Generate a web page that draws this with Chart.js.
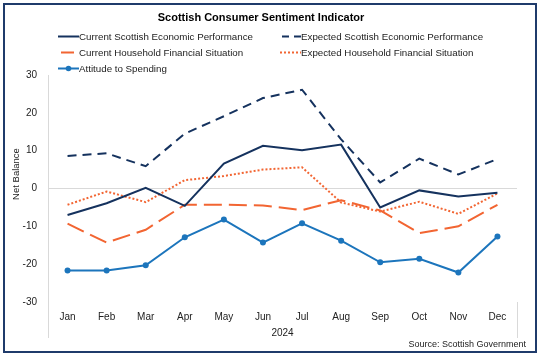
<!DOCTYPE html>
<html>
<head>
<meta charset="utf-8">
<script src="https://cdn.jsdelivr.net/npm/chart.js@4/dist/chart.umd.min.js"></script>
<style>
html,body{margin:0;padding:0;background:#fff;}
canvas{display:block;}
</style>
</head>
<body>
<canvas id="c" width="541" height="357"></canvas>
<script>
const months = ["Jan","Feb","Mar","Apr","May","Jun","Jul","Aug","Sep","Oct","Nov","Dec"];
const yearLabel = "2024";
const currentScottish = [-7.0,-3.9,0.2,-4.6,6.6,11.3,10.1,11.6,-5.0,-0.5,-2.1,-1.1];
const expectedScottish = [8.6,9.3,5.9,14.5,19.1,23.9,26.1,13.0,1.6,7.9,3.7,7.8];
const currentHousehold = [-9.3,-14.3,-10.9,-4.3,-4.3,-4.5,-5.7,-3.1,-5.8,-11.8,-10.0,-4.3];
const expectedHousehold = [-4.3,-0.8,-3.6,2.2,3.3,5.0,5.6,-3.7,-6.1,-3.5,-6.7,-1.3];
const attitudeSpending = [-21.7,-21.7,-20.3,-12.9,-8.2,-14.3,-9.2,-13.8,-19.5,-18.6,-22.2,-12.7];
const yTicks = [-30,-20,-10,0,10,20,30];
const seriesNames = ["Current Scottish Economic Performance","Expected Scottish Economic Performance","Current Household Financial Situation","Expected Household Financial Situation","Attitude to Spending"];

const NAVY = "#15325E", ORANGE = "#F26532", BLUE = "#1C75BC";
const FONT = "'Liberation Sans', Arial, sans-serif";

const decor = {
  id: "decor",
  afterDraw(chart) {
    const ctx = chart.ctx, a = chart.chartArea;
    ctx.save();
    // outer border
    ctx.strokeStyle = "#1F3B6B";
    ctx.lineWidth = 2;
    ctx.strokeRect(4, 4, 532, 348);
    // axis extension lines (category group dividers)
    ctx.strokeStyle = "#D9D9D9";
    ctx.lineWidth = 1;
    ctx.beginPath();
    ctx.moveTo(Math.round(a.left) + 0.5, a.bottom);
    ctx.lineTo(Math.round(a.left) + 0.5, 338);
    ctx.moveTo(Math.round(a.right) + 0.5, a.bottom);
    ctx.lineTo(Math.round(a.right) + 0.5, 338);
    ctx.stroke();
    // title
    ctx.fillStyle = "#000";
    ctx.font = "bold 11px " + FONT;
    ctx.textAlign = "center";
    ctx.textBaseline = "middle";
    ctx.fillText("Scottish Consumer Sentiment Indicator", 261, 18);
    // year label
    ctx.font = "10px " + FONT;
    ctx.fillStyle = "#222";
    ctx.fillText(yearLabel, (a.left + a.right) / 2, 333);
    // source
    ctx.textAlign = "right";
    ctx.font = "9px " + FONT;
    ctx.fillText("Source: Scottish Government", 526, 345);
    // y axis title
    ctx.save();
    ctx.translate(16, 174);
    ctx.rotate(-Math.PI / 2);
    ctx.textAlign = "center";
    ctx.font = "9.5px " + FONT;
    ctx.fillText("Net Balance", 0, 0);
    ctx.restore();
    // legend
    const pos = [[58,36],[280,36],[58,52],[280,52],[58,68]];
    chart.data.datasets.forEach((ds, i) => {
      const [x, y] = pos[i];
      ctx.strokeStyle = ds.borderColor;
      ctx.lineWidth = 2;
      ctx.setLineDash(ds.legendDash || []);
      ctx.lineDashOffset = ds.legendDashOffset || 0;
      ctx.beginPath();
      ctx.moveTo(x, y + 0.5);
      ctx.lineTo(x + 21, y + 0.5);
      ctx.stroke();
      ctx.setLineDash([]);
      if (ds.pointRadius > 0) {
        ctx.fillStyle = ds.borderColor;
        ctx.beginPath();
        ctx.arc(x + 10.5, y + 0.5, 2.8, 0, Math.PI * 2);
        ctx.fill();
      }
      ctx.fillStyle = "#222";
      ctx.font = "9.75px " + FONT;
      ctx.textAlign = "left";
      ctx.textBaseline = "middle";
      ctx.fillText(ds.label, x + 21, y + 1);
    });
    ctx.restore();
  }
};

new Chart(document.getElementById("c"), {
  type: "line",
  data: {
    labels: months,
    datasets: [
      { label: seriesNames[0], data: currentScottish, borderColor: NAVY, backgroundColor: NAVY, borderWidth: 2, pointRadius: 0, legendDash: [] },
      { label: seriesNames[1], data: expectedScottish, borderColor: NAVY, backgroundColor: NAVY, borderWidth: 2, borderDash: [9,6], pointRadius: 0, legendDash: [7,5], legendDashOffset: -2 },
      { label: seriesNames[2], data: currentHousehold, borderColor: ORANGE, backgroundColor: ORANGE, borderWidth: 2, borderDash: [18,7], pointRadius: 0, legendDash: [0,3,13,20] },
      { label: seriesNames[3], data: expectedHousehold, borderColor: ORANGE, backgroundColor: ORANGE, borderWidth: 2, borderDash: [2,2], pointRadius: 0, legendDash: [2,2] },
      { label: seriesNames[4], data: attitudeSpending, borderColor: BLUE, backgroundColor: BLUE, borderWidth: 2, pointRadius: 3, pointHoverRadius: 3, pointBorderWidth: 0, legendDash: [] }
    ]
  },
  options: {
    responsive: false,
    animation: false,
    layout: { padding: { left: 0, top: 75, right: 24, bottom: 0 } },
    plugins: { legend: { display: false }, title: { display: false }, tooltip: { enabled: false } },
    elements: { line: { tension: 0 } },
    scales: {
      x: {
        offset: true,
        grid: { display: false, drawTicks: false },
        border: { display: false },
        ticks: { color: "#222", font: { family: FONT, size: 10 }, padding: 9, maxRotation: 0, autoSkip: false },
        afterFit(s) { s.height = 55; }
      },
      y: {
        min: -30, max: 30,
        afterBuildTicks(s) { s.ticks = yTicks.map(v => ({ value: v })); },
        grid: {
          drawTicks: false,
          color: c => (c.tick && c.tick.value === 0) ? "#D9D9D9" : "rgba(0,0,0,0)",
          lineWidth: 1
        },
        border: { display: true, color: "#D9D9D9" },
        ticks: { color: "#222", font: { family: FONT, size: 10 }, padding: 11 },
        afterFit(s) { s.width = 48; }
      }
    }
  },
  plugins: [decor]
});
</script>
</body>
</html>
